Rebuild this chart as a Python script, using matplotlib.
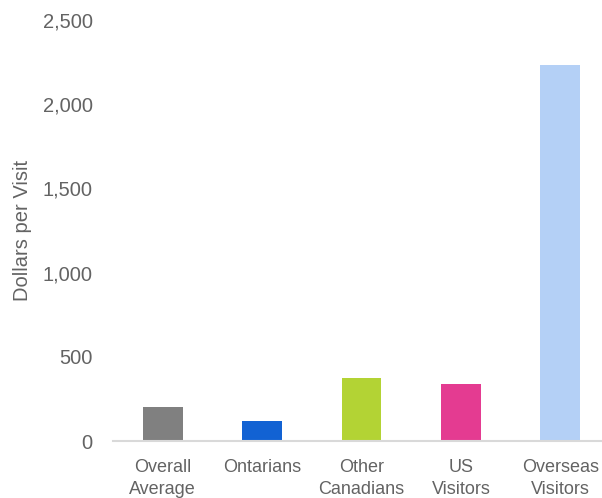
import matplotlib
matplotlib.use('Agg')
import matplotlib.pyplot as plt
from matplotlib.ticker import FuncFormatter

# DATA
categories = ['Overall\nAverage', 'Ontarians', 'Other\nCanadians', 'US\nVisitors', 'Overseas\nVisitors']
spend = [202, 119, 374, 338, 2233]
colors = ['#808080', '#1262D3', '#B3D334', '#E43B91', '#B4D0F6']
yticks = [0, 500, 1000, 1500, 2000, 2500]

TEXT = '#636363'
plt.rcParams['font.family'] = ['Liberation Sans', 'DejaVu Sans']

fig = plt.figure(figsize=(6.02, 4.98), dpi=100)
# axes deliberately runs past the right edge, as in the source
ax = fig.add_axes([113 / 602, 1 - 441 / 498, 497 / 602, 421 / 498])

x = list(range(len(categories)))
ax.bar(x, spend, width=0.4, color=colors, zorder=2)

ax.set_xlim(-0.5, 4.5)
ax.set_ylim(0, 2500)
ax.set_yticks(yticks)
ax.yaxis.set_major_formatter(FuncFormatter(lambda v, p: f'{int(v):,}'))
ax.set_xticks(x)
ax.set_xticklabels(categories, fontsize=13, color=TEXT, linespacing=1.4)
ax.tick_params(axis='y', length=0, pad=14.5, labelsize=14.5, labelcolor=TEXT)
ax.tick_params(axis='x', length=0, pad=13)

for s in ['top', 'right', 'left']:
    ax.spines[s].set_visible(False)
ax.spines['bottom'].set_color('#D9D9D9')
ax.spines['bottom'].set_linewidth(1.5)

ax.set_ylabel('Dollars per Visit', fontsize=14.5, color=TEXT, labelpad=8)

plt.savefig('out.png', dpi=100)
plt.close()
